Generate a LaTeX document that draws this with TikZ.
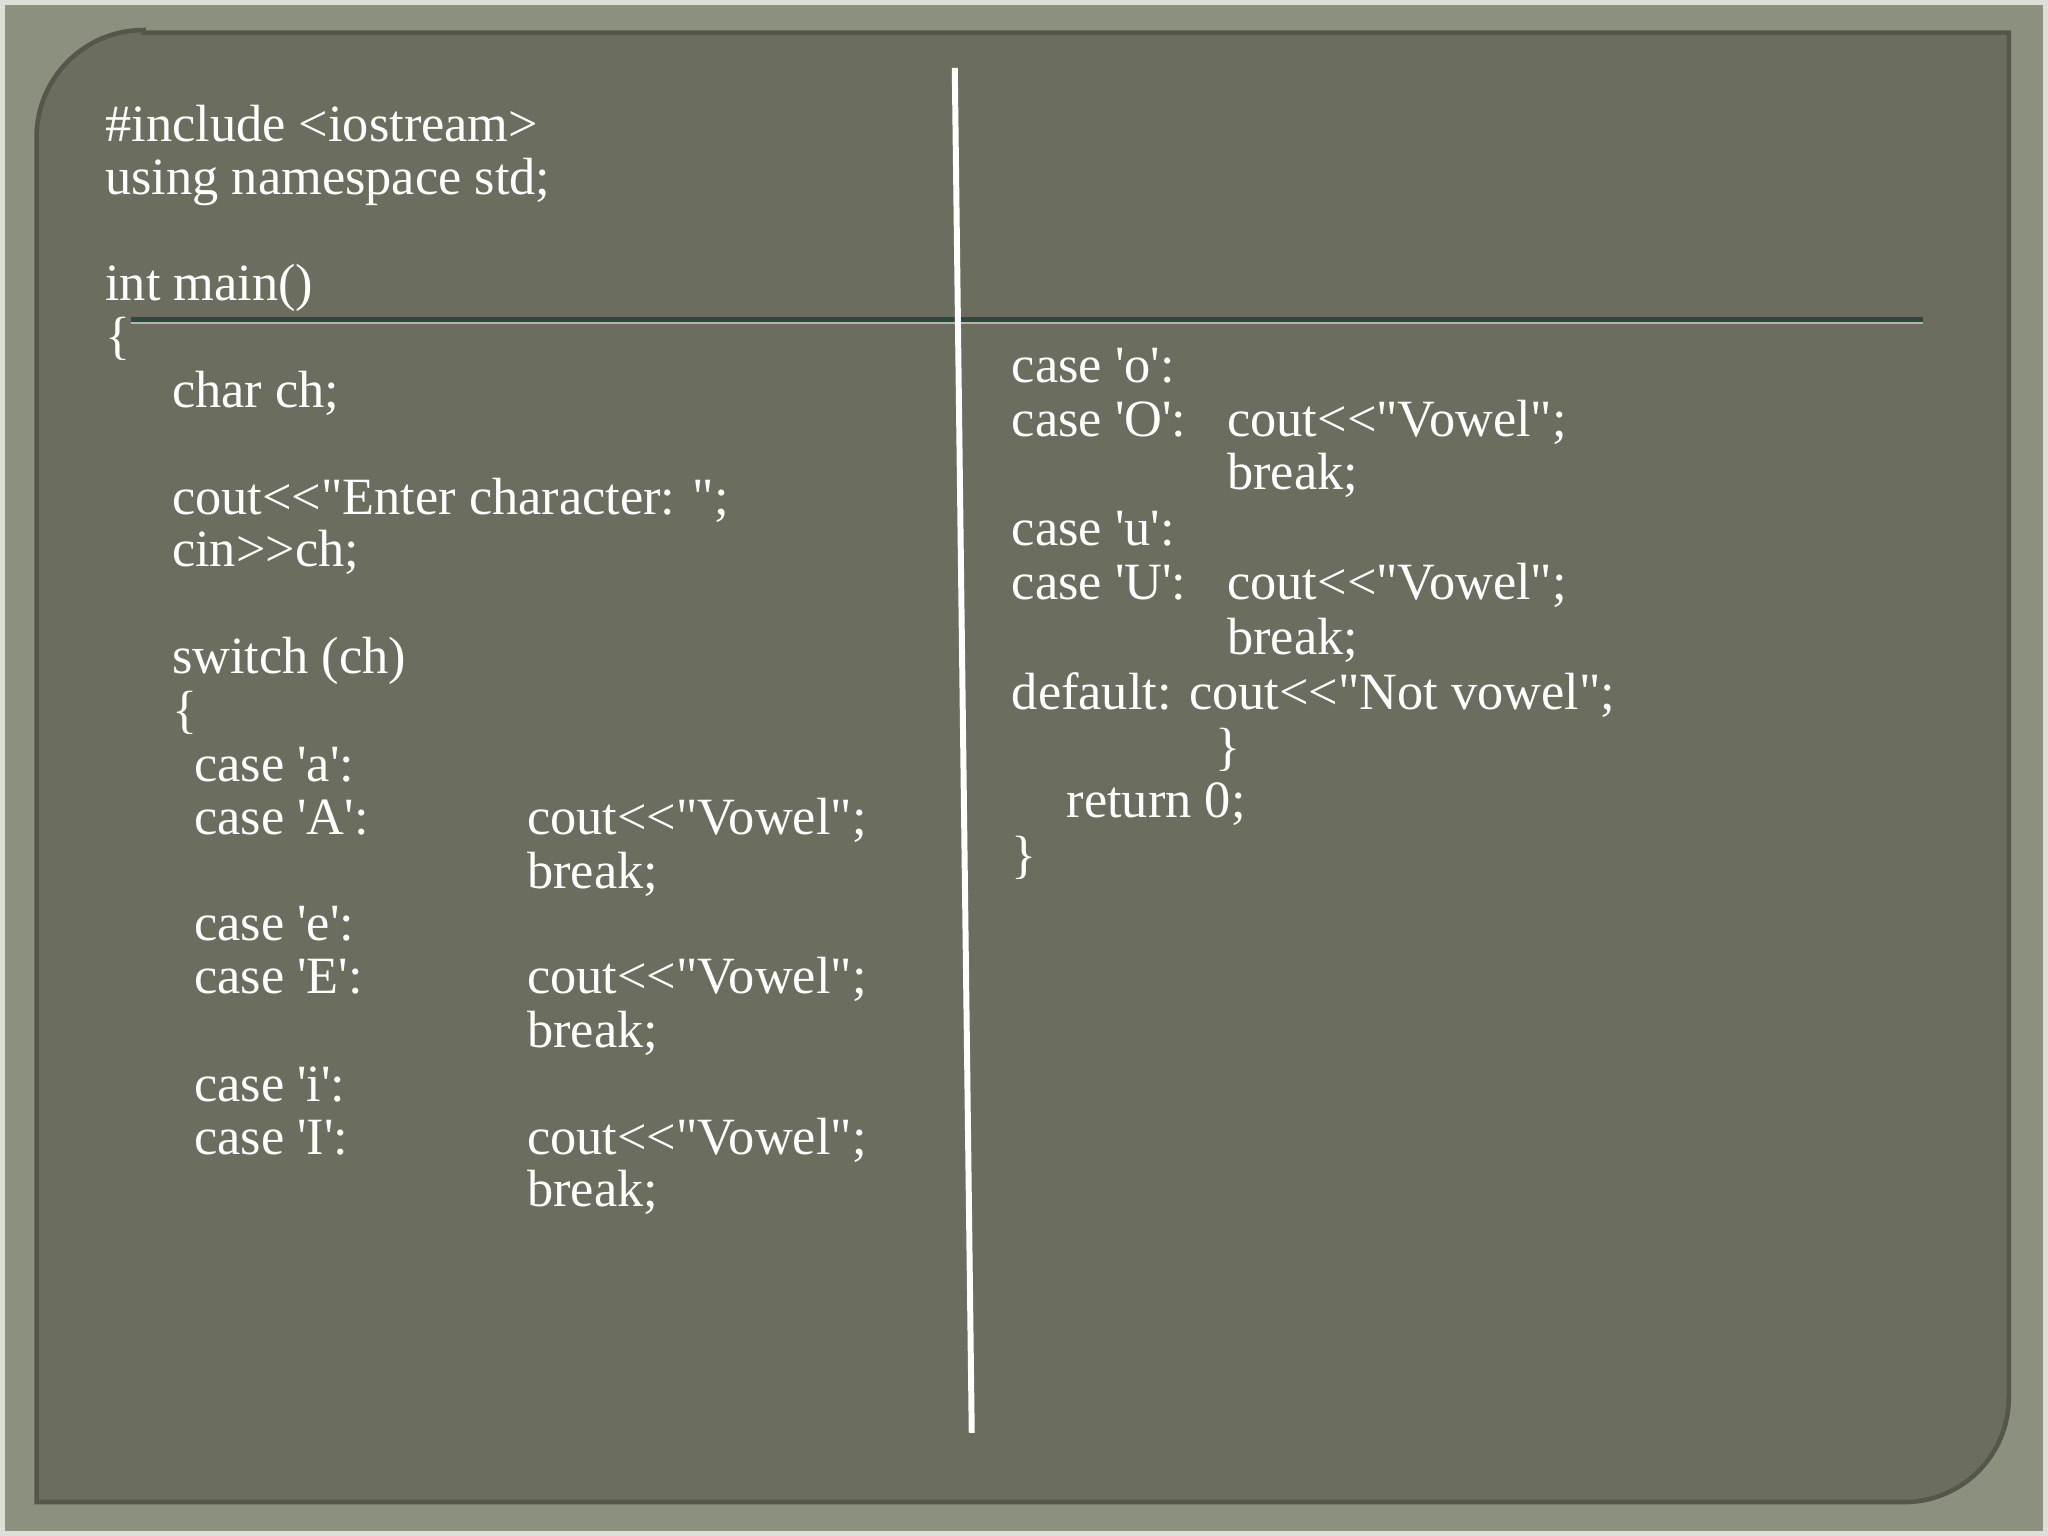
\documentclass[tikz,border=0pt]{standalone}
\usepackage{fontspec}
\setmainfont{Liberation Serif}[Ligatures=TeXOff]
\definecolor{outerc}{HTML}{8C907F}
\definecolor{innerc}{HTML}{6B6D5E}
\definecolor{linec}{HTML}{2E4A3C}
\newcommand{\q}{\char39\relax}
\begin{document}
\begin{tikzpicture}[x=0.01cm,y=-0.01cm,
  txt/.style={anchor=base west,inner sep=0,text=white,font=\fontsize{11.4}{13}\selectfont}]
\fill[outerc] (0,0) rectangle (1568,1176);
\draw[white!70!outerc,line width=1pt] (2,2) rectangle (1566,1174);
\fill[innerc,draw=black!20!innerc,line width=1pt] (110,25) -- (1538,25) -- (1538,1070) arc (0:90:80) -- (28,1150) -- (28,105) arc (180:270:82) -- cycle;
\draw[linec,line width=1.2pt] (100,245) -- (1472,245);
\draw[white!60!linec,line width=0.4pt] (100,247) -- (1472,247);
\coordinate (vt) at (731,52); \coordinate (vb) at (744,1097);
\draw[white,line width=1.3pt] (vt) -- (vb);
\node[txt] (a1) at (80,108) {\#include <iostream>};
\node[txt] (a2) at (80,149) {using namespace std;};
\node[txt] (a3) at (80,230) {int main()};
\node[txt] (a4) at (80,271) {\{};
\node[txt] (a5) at (131,312) {char ch;};
\node[txt] (a6) at (131,394) {cout<<"Enter character: ";};
\node[txt] (a7) at (131,434) {cin>>ch;};
\node[txt] (a8) at (131,516) {switch (ch)};
\node[txt] (a9) at (131,557) {\{};
\node[txt] (b1) at (148,598) {case 'a':};
\node[txt] (b2) at (148,639) {case 'A':};
\node[txt] (b3) at (403,639) {cout<<"Vowel";};
\node[txt] (b4) at (403,680) {break;};
\node[txt] (b5) at (148,720) {case 'e':};
\node[txt] (b6) at (148,761) {case 'E':};
\node[txt] (b7) at (403,761) {cout<<"Vowel";};
\node[txt] (b8) at (403,802) {break;};
\node[txt] (b9) at (148,843) {case 'i':};
\node[txt] (c1) at (148,884) {case 'I':};
\node[txt] (c2) at (403,884) {cout<<"Vowel";};
\node[txt] (c3) at (403,924) {break;};
\node[txt] (d1) at (774,293) {case 'o':};
\node[txt] (d2) at (774,334) {case 'O':};
\node[txt] (d3) at (939,334) {cout<<"Vowel";};
\node[txt] (d4) at (939,375) {break;};
\node[txt] (d5) at (774,418) {case 'u':};
\node[txt] (d6) at (774,459) {case 'U':};
\node[txt] (d7) at (939,459) {cout<<"Vowel";};
\node[txt] (d8) at (939,501) {break;};
\node[txt] (d9) at (774,543) {default: cout<<"Not vowel";};
\node[txt] (e1) at (930,585) {\}};
\node[txt] (e2) at (816,626) {return 0;};
\node[txt] (e3) at (774,668) {\}};
\end{tikzpicture}
\end{document}
